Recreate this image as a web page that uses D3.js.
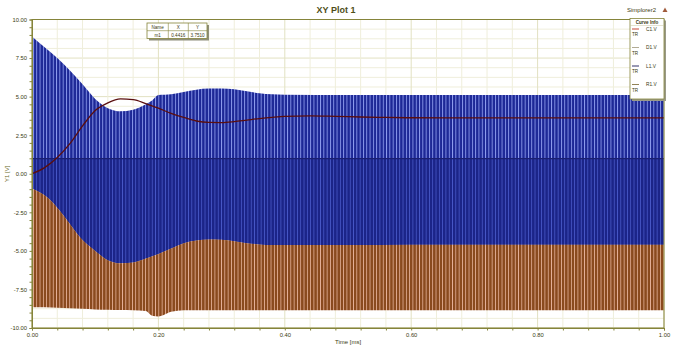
<!DOCTYPE html>
<html><head><meta charset="utf-8">
<script src="https://cdn.jsdelivr.net/npm/d3@7"></script>
<style>
body{margin:0;background:#fff}
text{font-family:Arial,"Liberation Sans",sans-serif}
</style>
</head><body>
<svg id="c" width="675" height="355"></svg>
<script>
// ---- data ----
const envTime   = [0,0.02,0.04,0.06,0.08,0.10,0.12,0.14,0.16,0.18,0.19,0.20,0.22,0.24,0.26,0.28,0.30,0.32,0.34,0.36,0.38,0.40,0.50,0.60,0.70,0.80,0.90,1.00];
const blueUpper = [8.9,8.2,7.5,6.7,5.8,4.85,4.25,4.05,4.15,4.5,4.75,5.1,5.15,5.3,5.45,5.52,5.52,5.48,5.35,5.22,5.15,5.12,5.1,5.1,5.1,5.1,5.1,5.1];
const brownUpper= [-0.95,-1.4,-2.2,-3.25,-4.3,-5.0,-5.6,-5.8,-5.75,-5.5,-5.35,-5.2,-4.85,-4.5,-4.32,-4.27,-4.28,-4.38,-4.5,-4.58,-4.62,-4.62,-4.62,-4.6,-4.6,-4.6,-4.6,-4.6];
const brownLower= [-8.65,-8.65,-8.68,-8.72,-8.76,-8.8,-8.82,-8.84,-8.85,-8.9,-9.2,-9.25,-8.95,-8.85,-8.85,-8.85,-8.85,-8.85,-8.85,-8.85,-8.85,-8.85,-8.85,-8.85,-8.85,-8.85,-8.85,-8.85];
const redTime   = [0,0.02,0.04,0.06,0.08,0.10,0.12,0.14,0.16,0.18,0.20,0.22,0.24,0.26,0.28,0.30,0.32,0.34,0.36,0.38,0.40,0.44,0.48,0.52,0.56,0.60,0.70,0.80,0.90,1.00];
const redValues = [0,0.4,1.05,1.95,3.1,4.1,4.6,4.85,4.8,4.55,4.25,3.92,3.65,3.42,3.33,3.32,3.38,3.48,3.58,3.66,3.72,3.75,3.72,3.68,3.65,3.63,3.62,3.62,3.62,3.62];
const navyTime  = [0,1];
const navyValues= [0.98,0.98];
const xTickLabels = ["0.00","0.20","0.40","0.60","0.80","1.00"];
const yTickLabels = ["10.00","7.50","5.00","2.50","0.00","-2.50","-5.00","-7.50","-10.00"];
const legendNames = ["C1.V","D1.V","L1.V","R1.V"];
const legendColors= ["#c0301e","#a8a288","#1c1c5a","#857443"];
const markerHeader= ["Name","X","Y"];
const markerRow   = ["m1","0.4416","3.7510"];

// ---- layout ----
const L=32, R=664, T=19.5, B=328;
const svg=d3.select("#c");
const x=d3.scaleLinear().domain([0,1]).range([L,R]);
const y=d3.scaleLinear().domain([-10,10]).range([B,T]);
const olive="#85843a", txt="#3a3a10";

const defs=svg.append("defs");
function stripes(id,bg,fg,w,pw){
  const p=defs.append("pattern").attr("id",id).attr("patternUnits","userSpaceOnUse")
    .attr("width",pw).attr("height",20);
  p.append("rect").attr("width",pw).attr("height",20).attr("fill",bg);
  p.append("rect").attr("x",0).attr("width",w).attr("height",20).attr("fill",fg);
}
stripes("pBlue","#1d2896","#8e9cee",0.9,3.3);
stripes("pBlueLow","#1b2488","#4858c8",0.8,3.3);
stripes("pBrown","#8a4a1e","#e8b59c",0.8,3.3);
defs.append("clipPath").attr("id","clip").append("rect").attr("x",L).attr("y",T).attr("width",R-L).attr("height",B-T);

// grid
const gx=d3.range(0,1.0001,0.04), gy=d3.range(-10,10.0001,0.625);
svg.append("g").selectAll("line").data(gy).join("line")
  .attr("x1",L).attr("x2",R).attr("y1",d=>y(d)).attr("y2",d=>y(d))
  .attr("stroke",d=>Math.abs(d/2.5-Math.round(d/2.5))<1e-6?"#e2e1c2":"#efeedb").attr("stroke-width",1);
svg.append("g").selectAll("line").data(gx).join("line")
  .attr("y1",T).attr("y2",B).attr("x1",d=>x(d)).attr("x2",d=>x(d))
  .attr("stroke",d=>Math.abs(d/0.2-Math.round(d/0.2))<1e-6?"#e2e1c2":"#efeedb").attr("stroke-width",1);

// waveforms
const plot=svg.append("g").attr("clip-path","url(#clip)");
const idx=d3.range(envTime.length);
const curve=d3.curveMonotoneX;
plot.append("path").attr("fill","url(#pBlue)")
  .attr("d",d3.area().curve(curve).x(i=>x(envTime[i])).y0(i=>y(brownUpper[i])).y1(i=>y(blueUpper[i]))(idx));
plot.append("path").attr("fill","url(#pBlueLow)")
  .attr("d",d3.area().curve(curve).x(i=>x(envTime[i])).y0(i=>y(brownUpper[i])).y1(()=>y(navyValues[0]))(idx));
plot.append("path").attr("fill","url(#pBrown)")
  .attr("d",d3.area().curve(curve).x(i=>x(envTime[i])).y0(i=>y(brownLower[i])).y1(i=>y(brownUpper[i]))(idx));
plot.append("path").attr("fill","none").attr("stroke","#1a1f70").attr("stroke-width",1.2)
  .attr("d",d3.line().x(i=>x(navyTime[i])).y(i=>y(navyValues[i]))(d3.range(navyTime.length)));
plot.append("path").attr("fill","none").attr("stroke","#5a0e0e").attr("stroke-width",1.3)
  .attr("d",d3.line().curve(d3.curveMonotoneX).x(i=>x(redTime[i])).y(i=>y(redValues[i]))(d3.range(redTime.length)));

// frame
svg.append("rect").attr("x",L).attr("y",T).attr("width",R-L).attr("height",B-T)
  .attr("fill","none").attr("stroke",olive).attr("stroke-width",1);

// axes
const xa=svg.append("g").attr("transform",`translate(0,${B})`)
  .call(d3.axisBottom(x).tickValues(gx).tickSize(2.5).tickFormat(d=>{const k=Math.round(d/0.2);return Math.abs(d/0.2-k)<1e-6?xTickLabels[k]:"";}));
const ya=svg.append("g").attr("transform",`translate(${L},0)`)
  .call(d3.axisLeft(y).tickValues(d3.range(-10,10.0001,0.5)).tickSize(2.5).tickFormat(d=>{const k=Math.round((10-d)/2.5);return Math.abs((10-d)/2.5-k)<1e-6?yTickLabels[k]:"";}));
[xa,ya].forEach(a=>{a.select(".domain").attr("stroke",olive);a.selectAll(".tick line").attr("stroke",olive);
  a.selectAll("text").attr("font-size",5.8).attr("fill",txt).attr("font-family","Arial,'Liberation Sans',sans-serif");});
xa.selectAll("text").attr("dy","0.9em").attr("y",4);
ya.selectAll("text").attr("x",-5);

// titles
svg.append("text").attr("x",336).attr("y",13).attr("text-anchor","middle").attr("font-size",9).attr("font-weight",600).attr("fill","#4e4e18").text("XY Plot 1");
svg.append("text").attr("x",348).attr("y",344).attr("text-anchor","middle").attr("font-size",6).attr("fill",txt).text("Time [ms]");
svg.append("text").attr("transform",`translate(8.5,${(T+B)/2}) rotate(-90)`).attr("text-anchor","middle").attr("font-size",6).attr("fill","#6b6a2a").text("Y1 [V]");
svg.append("text").attr("x",656).attr("y",12).attr("text-anchor","end").attr("font-size",6).attr("fill",txt).text("Simplorer2");
svg.append("path").attr("d","M662.5,12 L665,7.5 L667.5,12 Z").attr("fill","#a05a3a");

// legend
const lg=svg.append("g");
lg.append("rect").attr("x",632).attr("y",20.5).attr("width",34).attr("height",80.5).attr("fill","#9a9a88");
lg.append("rect").attr("x",630).attr("y",18.5).attr("width",34).attr("height",80.5).attr("fill","#fff").attr("stroke",olive).attr("stroke-width",0.8);
lg.append("text").attr("x",647).attr("y",24).attr("text-anchor","middle").attr("font-size",4.6).attr("font-weight","bold").attr("fill",txt).text("Curve Info");
lg.append("line").attr("x1",630).attr("x2",664).attr("y1",25.5).attr("y2",25.5).attr("stroke","#c8c7a0").attr("stroke-width",0.5);
legendNames.forEach((n,i)=>{
  const yy=29+i*18.5;
  lg.append("line").attr("x1",632).attr("x2",639).attr("y1",yy).attr("y2",yy).attr("stroke",legendColors[i]).attr("stroke-width",0.9);
  lg.append("text").attr("x",646).attr("y",yy+1.7).attr("font-size",4.8).attr("fill",txt).text(n);
  lg.append("text").attr("x",632).attr("y",yy+7).attr("font-size",4.6).attr("fill",txt).text("TR");
});

// marker table
const mt=svg.append("g");
mt.append("rect").attr("x",149).attr("y",25).attr("width",60).attr("height",15.5).attr("fill","#8e8e7a");
mt.append("rect").attr("x",147).attr("y",23).attr("width",60).attr("height",15.5).attr("fill","#fff").attr("stroke",olive).attr("stroke-width",0.8);
mt.append("line").attr("x1",147).attr("x2",207).attr("y1",30.7).attr("y2",30.7).attr("stroke",olive).attr("stroke-width",0.6);
[168.3,188.3].forEach(cx=>mt.append("line").attr("x1",cx).attr("x2",cx).attr("y1",23).attr("y2",38.5).attr("stroke",olive).attr("stroke-width",0.6));
const colC=[157.6,178.3,197.6];
markerHeader.forEach((h,i)=>mt.append("text").attr("x",colC[i]).attr("y",28.8).attr("text-anchor","middle").attr("font-size",4.6).attr("fill",txt).text(h));
markerRow.forEach((h,i)=>mt.append("text").attr("x",colC[i]).attr("y",36.5).attr("text-anchor","middle").attr("font-size",4.6).attr("fill",txt).text(h));
</script>
</body></html>
